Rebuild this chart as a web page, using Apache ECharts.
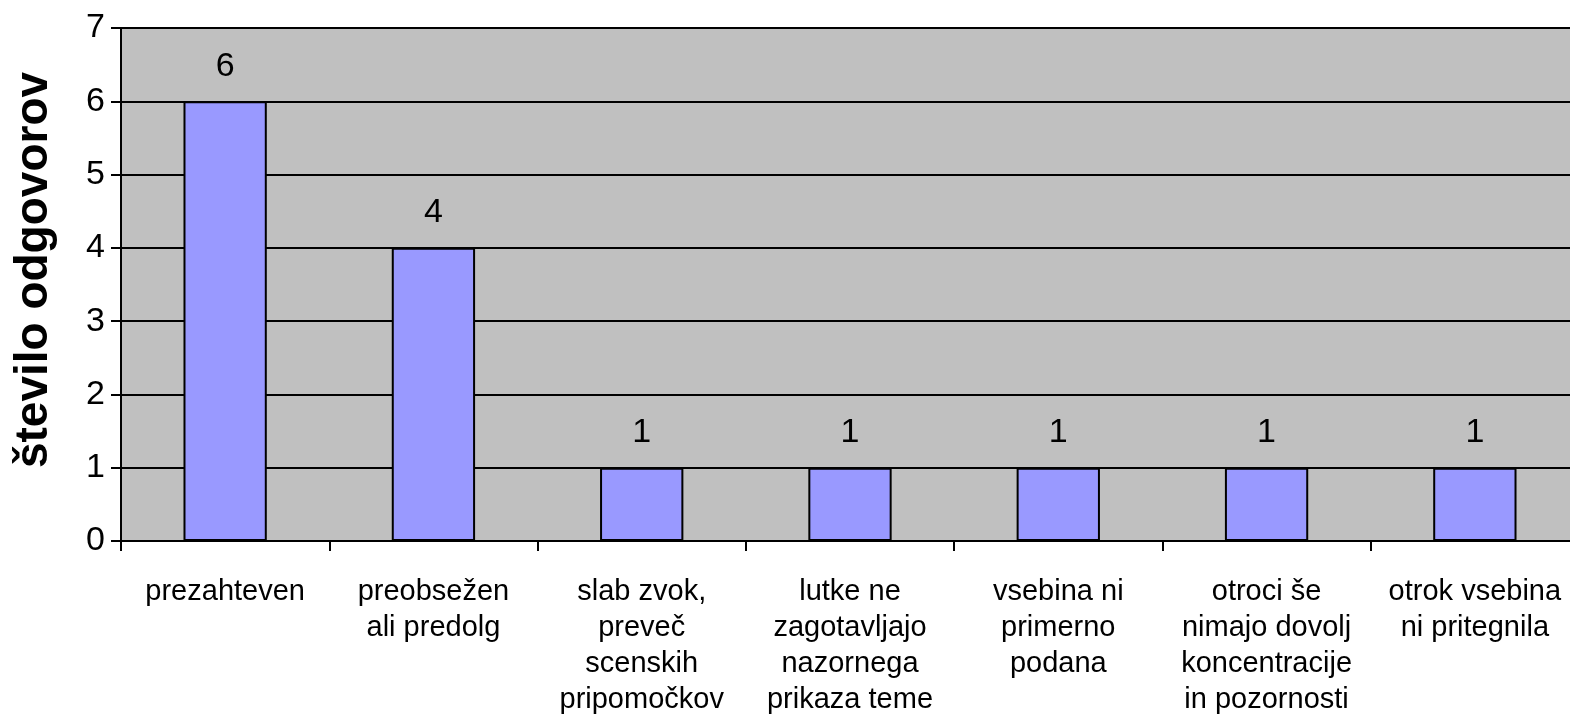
<!DOCTYPE html>
<html>
<head>
<meta charset="utf-8">
<script src="https://cdn.jsdelivr.net/npm/echarts@6/dist/echarts.min.js"></script>
<style>
    html, body { margin: 0; padding: 0; background: #fff; }
    #myChart { width: 1570px; height: 727px; }
</style>
</head>
<body>
<div id="myChart"></div>
<script>
    // kategorije in vrednosti
    var categories = [
        'prezahteven',
        'preobsežen\nali predolg',
        'slab zvok,\npreveč\nscenskih\npripomočkov',
        'lutke ne\nzagotavljajo\nnazornega\nprikaza teme',
        'vsebina ni\nprimerno\npodana',
        'otroci še\nnimajo dovolj\nkoncentracije\nin pozornosti',
        'otrok vsebina\nni pritegnila'
    ];
    var answers = [6, 4, 1, 1, 1, 1, 1];
    var yAxisName = 'število odgovorov';

    var myChart = echarts.init(document.getElementById('myChart'));
    var font = 'Liberation Sans, Arial, sans-serif';

    myChart.setOption({
        backgroundColor: '#fff',
        animation: false,
        grid: {
            left: 121,
            right: -9,
            top: 28,
            bottom: 186,
            outerBoundsMode: 'none',
            containLabel: false,
            show: true,
            backgroundColor: '#c0c0c0',
            borderColor: '#808080',
            borderWidth: 1
        },
        xAxis: {
            type: 'category',
            data: categories,
            axisLine: { lineStyle: { color: '#000', width: 2 } },
            axisTick: { show: true, length: 10, lineStyle: { color: '#000', width: 2 } },
            axisLabel: {
                interval: 0,
                margin: 33,
                color: '#000',
                fontFamily: font,
                fontSize: 29,
                lineHeight: 36
            },
            splitLine: { show: false }
        },
        yAxis: {
            type: 'value',
            min: 0,
            max: 7,
            interval: 1,
            name: yAxisName,
            nameLocation: 'middle',
            nameGap: 64,
            nameTextStyle: {
                color: '#000',
                fontFamily: font,
                fontSize: 46,
                fontWeight: 'bold',
                padding: [0, 0, 0, 29]
            },
            axisLine: { show: true, lineStyle: { color: '#000', width: 2 } },
            axisTick: { show: true, length: 10, lineStyle: { color: '#000', width: 2 } },
            axisLabel: {
                margin: 16,
                color: '#000',
                fontFamily: font,
                fontSize: 34
            },
            splitLine: { show: true, lineStyle: { color: '#000', width: 2 } }
        },
        series: [{
            type: 'bar',
            data: answers,
            barWidth: '40%',
            itemStyle: {
                color: '#9999ff',
                borderColor: '#000',
                borderWidth: 2
            },
            label: {
                show: true,
                position: 'top',
                distance: 18,
                color: '#000',
                fontFamily: font,
                fontSize: 34
            }
        }]
    });
</script>
</body>
</html>
